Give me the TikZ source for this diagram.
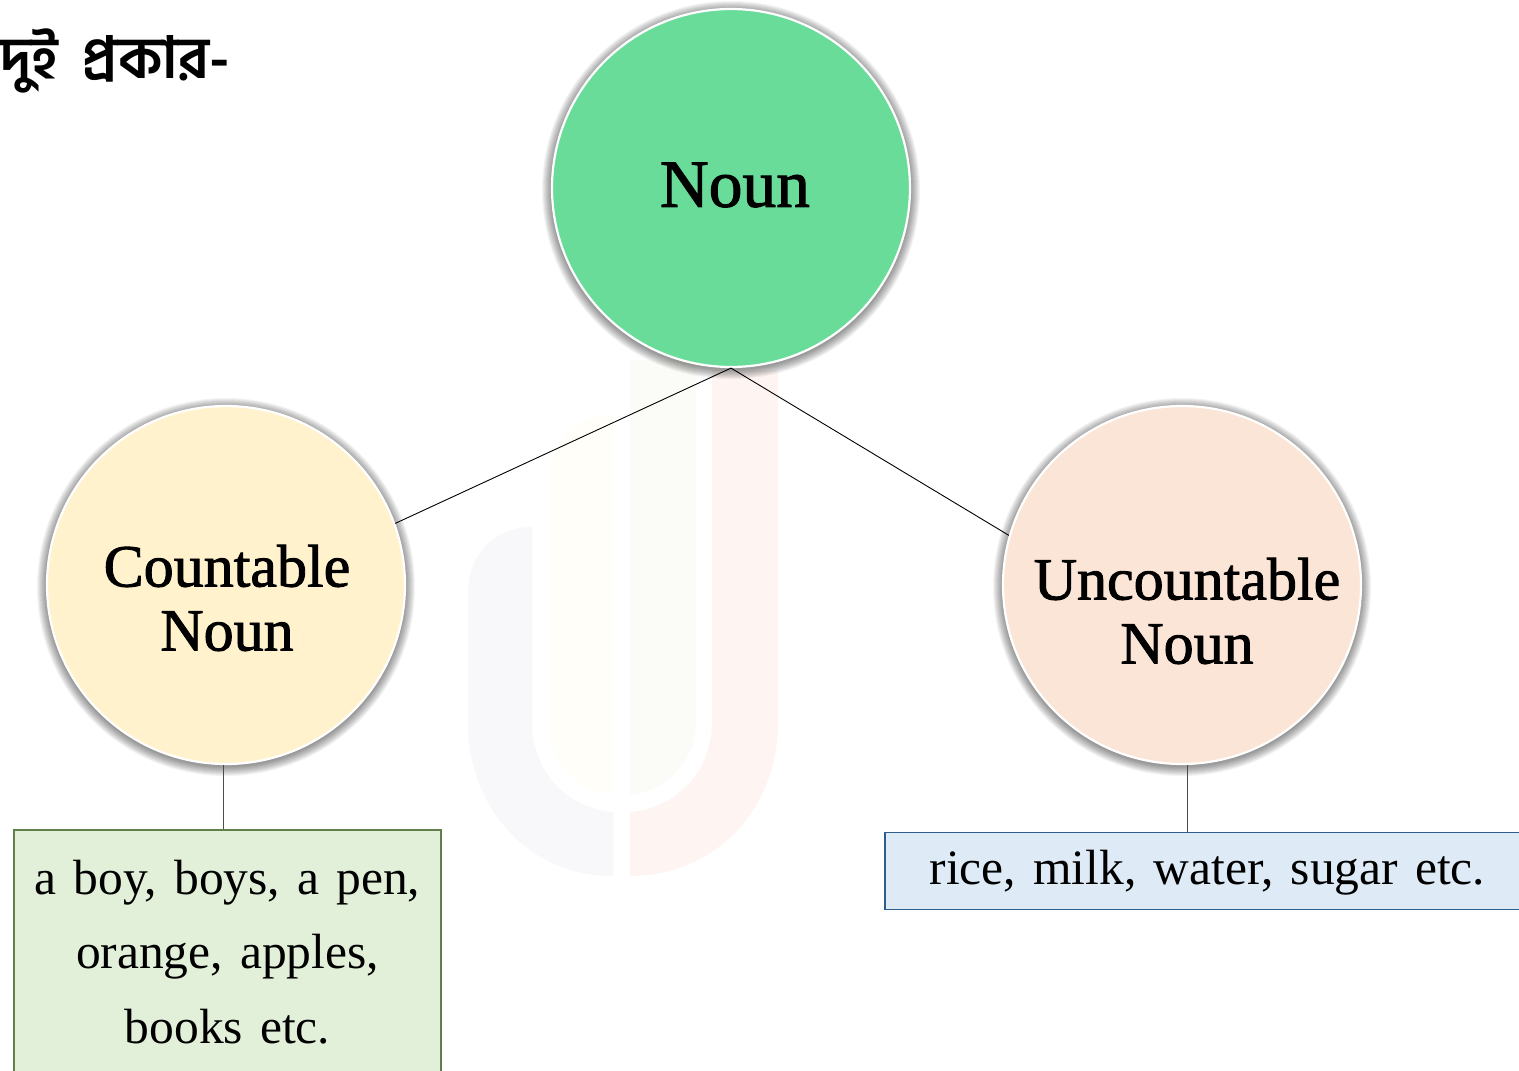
\documentclass[tikz,border=0pt]{standalone}
\usepackage{fontspec}
\setmainfont{Liberation Serif}[WordSpace=1.38]
\newfontfamily\headfont{Liberation Serif}[FakeBold=1.5]
\newfontfamily\banglafont[Script=Bengali,WordSpace=1.8]{Hind Siliguri}
\definecolor{nounfill}{HTML}{68DC98}
\definecolor{countfill}{HTML}{FFF2CC}
\definecolor{uncountfill}{HTML}{FBE5D6}
\definecolor{countbox}{HTML}{E2F0D9}
\definecolor{countedge}{HTML}{5F8048}
\definecolor{uncountbox}{HTML}{DEEBF7}
\definecolor{uncountedge}{HTML}{2E5E8C}
\definecolor{markgray}{HTML}{F8F7FA}
\definecolor{markred}{HTML}{FEF5F3}
\definecolor{markyellow}{HTML}{FFFEF8}
\definecolor{markgreen}{HTML}{FBFCF7}
\tikzset{
  x=1pt,y=-1pt,
  nodecircle/.style={circle,draw=white,line width=2.2pt,minimum size=358pt,inner sep=0pt},
  headtext/.style={font=\headfont\fontsize{60}{64}\selectfont,align=center,inner sep=0pt},
  itembox/.style={draw,line width=1.8pt,inner sep=0pt,align=center,font=\fontsize{49.5}{74.5}\selectfont},
  link/.style={draw=black,line width=0.9pt}
}
\newcommand{\softshadow}[2]{
  \foreach \r in {1,...,10}
    \fill[black,opacity=0.048] (#1,#2+2) circle ({179+\r});
}
\begin{document}
\begin{tikzpicture}
\useasboundingbox (0,0) rectangle (1519,1071);
\fill[white] (0,0) rectangle (1519,1071);
% watermark
\fill[markgray] (613,876) .. controls (530,876) and (468,810) .. (468,722) -- (468,592) .. controls (468,555) and (495,527) .. (532,527) -- (532,722) .. controls (532,770) and (565,808) .. (613,812) -- cycle;
\fill[markred] (630,876) .. controls (715,876) and (778,810) .. (778,722) -- (778,370) -- (712,370) -- (712,722) .. controls (712,770) and (678,808) .. (630,812) -- cycle;
\fill[markyellow] (613,795) .. controls (575,790) and (548,760) .. (548,722) -- (548,480) .. controls (548,445) and (575,415) .. (613,415) -- cycle;
\fill[markgreen] (630,795) .. controls (668,790) and (696,760) .. (696,722) -- (696,360) -- (630,360) -- cycle;
% circles
\softshadow{731}{188}
\softshadow{226}{585}
\softshadow{1182}{585}
\node[nodecircle,fill=nounfill] (noun) at (731,188) {};
\node[nodecircle,fill=countfill] (countable) at (226,585) {};
\node[nodecircle,fill=uncountfill] (uncountable) at (1182,585) {};
\node[headtext,font=\headfont\fontsize{67.5}{70}\selectfont] (nounlabel) at (735,185) {Noun};
\node[headtext] (countlabel) at (227,598) {Countable\\Noun};
\node[headtext] (uncountlabel) at (1187,611) {Uncountable\\Noun};
% boxes
\node[itembox,draw=countedge,fill=countbox,minimum width=427pt,minimum height=244pt,anchor=north] (countitems) at (227.5,829) {a boy, boys, a pen,\\orange, apples,\\books etc.};
\node[itembox,draw=uncountedge,fill=uncountbox,minimum width=645pt,minimum height=77pt,anchor=north] (uncountitems) at (1207.5,831.5) {};
\node[itembox,draw=none] (uncounttext) at (1207.5,873) {rice, milk, water, sugar etc.};
% links
\draw[link] (noun.south) -- (countable.20.3);
\draw[link] (noun.south) -- (uncountable.164);
\draw[link,draw=black!70] ([xshift=-3pt]countable.south) -- ([xshift=-3pt]countable.south |- countitems.north);
\draw[link,draw=black!70] ([xshift=5pt]uncountable.south) -- ([xshift=5pt]uncountable.south |- uncountitems.north);
% title
\node[anchor=base west,inner sep=0pt,font=\banglafont\bfseries\fontsize{58}{70}\selectfont] (title) at (0,78) {দুই প্রকার-};
\end{tikzpicture}
\end{document}
